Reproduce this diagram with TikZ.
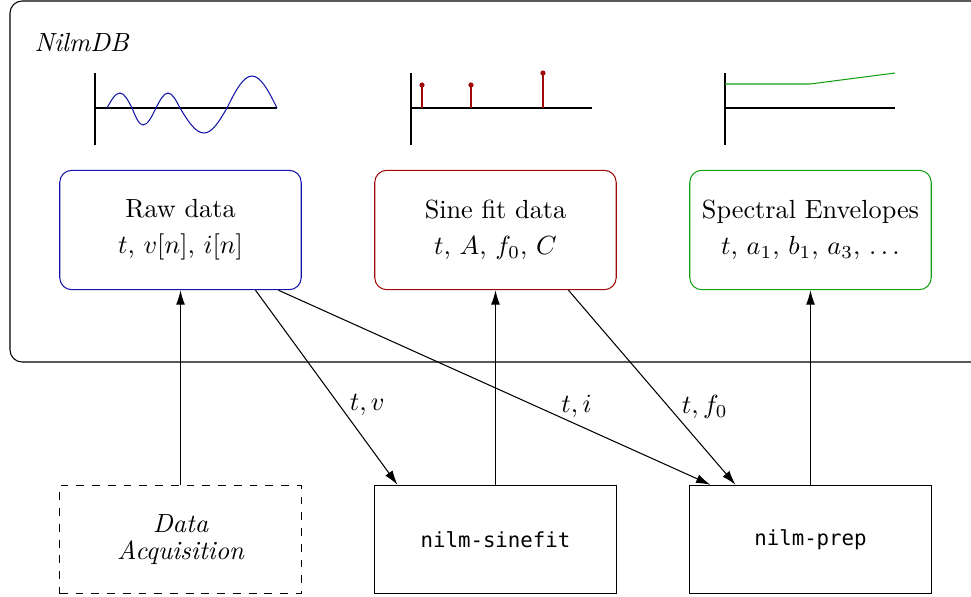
\documentclass[tikz,border=0pt]{standalone}
\usepackage{fontspec}
\setmonofont{DejaVu Sans Mono}[Scale=0.79]
\usetikzlibrary{arrows.meta,calc,positioning}
\definecolor{rawblue}{RGB}{20,20,170}
\definecolor{fitred}{RGB}{160,10,10}
\definecolor{envgreen}{RGB}{20,160,20}

\begin{document}
\begin{tikzpicture}[x=0.381pt,y=-0.381pt,>={Latex[length=5.5pt,width=3.4pt]},
    store/.style={draw,rounded corners=4.6pt,minimum width=92pt,minimum height=45.5pt,align=center},
    tool/.style={draw,minimum width=92pt,minimum height=41.3pt,align=center,font=\ttfamily}]
  \useasboundingbox (0,0) rectangle (971,596);
  % database frame
  \draw[rounded corners=4.6pt] (10,1) rectangle (990,362);
  \node (db) at (82,43) {\textit{NilmDB}};
  % stores
  \node[store,rawblue] (raw) at (180.5,230) {\textcolor{black}{Raw data}\\[1.7pt]\textcolor{black}{$t$, $v[n]$, $i[n]$}};
  \node[store,fitred] (fit) at (495.5,230) {\textcolor{black}{Sine fit data}\\[1.7pt]\textcolor{black}{$t$, $A$, $f_0$, $C$}};
  \node[store,envgreen] (env) at (810.5,230) {\textcolor{black}{Spectral Envelopes}\\[1.7pt]\textcolor{black}{$t$, $a_1$, $b_1$, $a_3$, $\ldots$}};
  % tools
  \node[tool,dashed,font=\itshape] (daq) at (180.5,539.5) {Data\\[-2pt]Acquisition};
  \node[tool] (sinefit) at (495.5,539.5) {nilm-sinefit};
  \node[tool] (prep) at (810.5,539.5) {nilm-prep};
  % raw waveform
  \draw (95,73) -- (95,145); \draw (95,108) -- (277,108);
  \draw[rawblue] (107,108) sin (120,93) cos (132,108) sin (143,125) cos (156,108)
    sin (168,93) cos (180,108) sin (204,133) cos (227,108) sin (252,76) cos (277,108);
  % sine fit stems
  \draw (411,73) -- (411,145); \draw (411,108) -- (592,108);
  \foreach \x/\y in {422/85,471/85,543/73} {
    \draw[fitred] (\x,108) -- (\x,\y); \fill[fitred] (\x,\y) circle (2.6);}
  % envelope
  \draw (725,73) -- (725,145); \draw (725,108) -- (895,108);
  \draw[envgreen] (725,84) -- (810,84) -- (895,73);
  % flows
  \draw[->] (daq.north) -- (raw.south);
  \draw[->] ($(raw.south)+(75,0)$) -- ($(sinefit.north)+(-98,0)$) node[pos=0.59,right=0.5pt] {$t, v$};
  \draw[->] ($(raw.south)+(98,0)$) -- ($(prep.north)+(-100,0)$) node[pos=0.69,above=-1pt] {$t, i$};
  \draw[->] (sinefit.north) -- (fit.south);
  \draw[->] ($(fit.south)+(73,0)$) -- ($(prep.north)+(-75,0)$) node[pos=0.6,right=1.5pt] {$t, f_0$};
  \draw[->] (prep.north) -- (env.south);
\end{tikzpicture}
\end{document}
